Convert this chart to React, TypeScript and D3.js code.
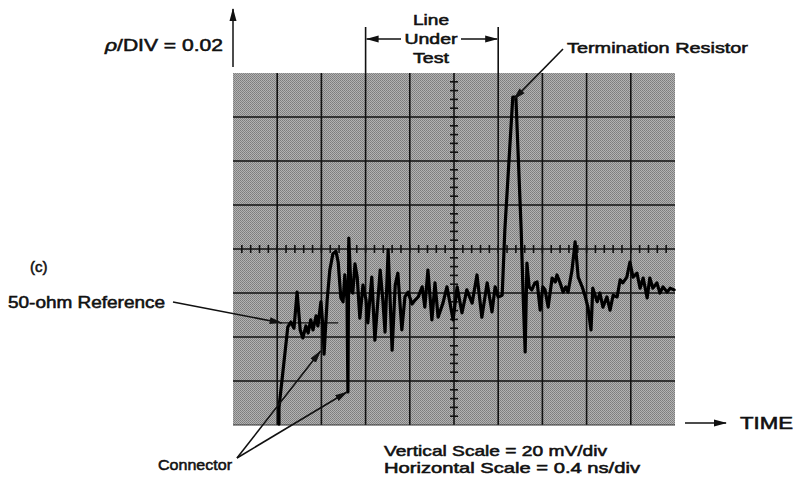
import React from "react";
import * as d3 from "d3";

// Trace: time in divisions (0..10), level in divisions (0..8, bottom = 0)
const traceTime = [
  1.04, 1.04, 1.24, 1.31, 1.38, 1.45, 1.52, 1.58, 1.65, 1.70, 1.76, 1.81, 1.88, 1.92, 1.99, 2.04, 2.06,
  2.13, 2.19, 2.26, 2.33, 2.38, 2.44, 2.49, 2.53, 2.58, 2.60, 2.62, 2.67, 2.71, 2.76, 2.81, 2.87, 2.94,
  3.01, 3.05, 3.14, 3.21, 3.33, 3.39, 3.44, 3.51, 3.60, 3.67, 3.73, 3.82, 3.89, 3.96, 4.05, 4.12, 4.19,
  4.28, 4.34, 4.41, 4.50, 4.57, 4.64, 4.75, 4.84, 4.91, 4.98, 5.07, 5.18, 5.29, 5.41, 5.52, 5.63, 5.75,
  5.86, 5.93, 6.00, 6.09, 6.15, 6.33, 6.40, 6.52, 6.56, 6.61, 6.65, 6.70, 6.76, 6.83, 6.88, 6.95, 7.01,
  7.06, 7.13, 7.22, 7.29, 7.33, 7.40, 7.47, 7.53, 7.58, 7.67, 7.74, 7.81, 7.90, 7.96, 8.03, 8.10, 8.14,
  8.24, 8.30, 8.37, 8.46, 8.53, 8.60, 8.69, 8.76, 8.82, 8.91, 8.98, 9.05, 9.14, 9.21, 9.28, 9.37, 9.43,
  9.50, 9.59, 9.66, 9.73, 9.82, 9.89, 9.98,
];
const traceLevel = [
  0.02, 0.39, 2.23, 2.34, 2.20, 3.02, 2.16, 1.98, 2.25, 2.09, 2.39, 2.16, 2.48, 2.25, 2.80, 2.16, 1.61,
  2.84, 3.52, 3.89, 3.95, 3.70, 2.89, 2.80, 3.41, 2.84, 0.75, 4.25, 3.07, 3.00, 3.66, 3.36, 2.43, 3.18,
  2.84, 2.32, 3.36, 1.93, 3.52, 2.84, 2.11, 3.98, 1.70, 3.18, 3.45, 2.16, 2.91, 3.02, 2.75, 2.84, 2.91,
  3.14, 2.68, 3.52, 2.39, 3.23, 2.45, 2.77, 3.14, 2.77, 2.39, 3.14, 2.55, 3.07, 2.77, 3.41, 2.45, 3.23,
  2.57, 3.14, 2.91, 2.95, 4.43, 7.45, 7.45, 4.43, 3.07, 1.66, 3.68, 3.14, 3.07, 3.23, 3.25, 2.61, 3.14,
  3.07, 2.68, 3.34, 3.25, 3.41, 3.23, 3.02, 3.14, 3.02, 3.52, 4.16, 3.36, 3.14, 2.95, 2.68, 2.16, 3.11,
  2.80, 3.00, 2.68, 2.91, 2.61, 2.95, 2.91, 3.30, 3.23, 3.36, 3.70, 3.36, 3.45, 3.11, 3.34, 2.89, 3.34,
  3.11, 3.23, 3.00, 3.14, 3.02, 3.11, 3.07,
];

const xDivisions = d3.range(0, 11);
const yDivisions = d3.range(0, 9);
const minorTicks = d3.range(0.2, 10, 0.2);
const minorTicksY = d3.range(0.2, 8, 0.2);
const referenceLevel = 2.32;

const labels = {
  line: ["Line", "Under", "Test"],
  term: "Termination Resistor",
  c: "(c)",
  ref: "50-ohm Reference",
  conn: "Connector",
  vscale: "Vertical Scale = 20 mV/div",
  hscale: "Horizontal Scale = 0.4 ns/div",
  time: "TIME",
};

export default function App() {
  const W = 799, H = 477;
  const x = d3.scaleLinear().domain([0, 10]).range([233, 675]);
  const y = d3.scaleLinear().domain([0, 8]).range([425, 73]);
  const pts = traceTime.map((t, i) => [t, traceLevel[i]] as [number, number]);
  const line = d3.line<[number, number]>().x((d) => x(d[0])).y((d) => y(d[1]));
  const font = "'Liberation Sans', Arial, Helvetica, sans-serif";
  const tStyle = { fontFamily: font, fontWeight: 400, fill: "#111", stroke: "#111", strokeWidth: 0.55 } as const;

  return (
    <svg width={W} height={H} style={{ position: "absolute", left: 0, top: 0, background: "#fff" }}>
      <defs>
        <pattern id="dither" width="2" height="2" patternUnits="userSpaceOnUse">
          <rect width="2" height="2" fill="#b2b2b2" />
          <rect width="1" height="1" fill="#7c7c7c" />
          <rect x="1" y="1" width="1" height="1" fill="#858585" />
        </pattern>
        <marker id="ah" markerUnits="userSpaceOnUse" markerWidth="13" markerHeight="8" refX="12" refY="4" orient="auto">
          <path d="M0,0.5 L13,4 L0,7.5 z" fill="#111" />
        </marker>
      </defs>

      {/* screen */}
      <rect x={x(0)} y={y(8)} width={x(10) - x(0)} height={y(0) - y(8)} fill="url(#dither)" />
      {xDivisions.slice(1, 10).map((d) => (
        <line key={"gx" + d} x1={x(d)} x2={x(d)} y1={y(8)} y2={y(0)} stroke="#111" strokeWidth={1.6} />
      ))}
      {yDivisions.slice(1, 8).map((d) => (
        <line key={"gy" + d} x1={x(0)} x2={x(10)} y1={y(d)} y2={y(d)} stroke="#111" strokeWidth={1.6} />
      ))}
      <line x1={x(0)} x2={x(10)} y1={y(0)} y2={y(0)} stroke="#333" strokeWidth={1.2} />
      {minorTicks.map((d, i) => (
        <line key={"mx" + i} x1={x(d)} x2={x(d)} y1={y(4) - 4} y2={y(4) + 4} stroke="#111" strokeWidth={1.6} />
      ))}
      {minorTicksY.map((d, i) => (
        <line key={"my" + i} x1={x(5) - 4} x2={x(5) + 4} y1={y(d)} y2={y(d)} stroke="#111" strokeWidth={1.6} />
      ))}

      {/* reference marker line */}
      <line x1={x(1.06)} x2={x(2.38)} y1={y(referenceLevel)} y2={y(referenceLevel)} stroke="#111" strokeWidth={1.2} />

      {/* trace */}
      <path d={line(pts) || ""} fill="none" stroke="#000" strokeWidth={3.2} strokeLinejoin="round" strokeLinecap="round" />

      {/* vertical axis arrow */}
      <line x1={x(0)} x2={x(0)} y1={67} y2={9} stroke="#111" strokeWidth={1.5} markerEnd="url(#ah)" />
      <text x={223} y={51} textAnchor="end" fontSize={17} textLength={118} lengthAdjust="spacingAndGlyphs" style={tStyle}>
        <tspan fontStyle="italic">ρ</tspan>/DIV = 0.02
      </text>

      {/* Line Under Test */}
      <line x1={x(3)} x2={x(3)} y1={27} y2={y(8)} stroke="#111" strokeWidth={1.6} />
      <line x1={x(6)} x2={x(6)} y1={27} y2={y(8)} stroke="#111" strokeWidth={1.6} />
      <line x1={401} x2={x(3) + 1} y1={39} y2={39} stroke="#111" strokeWidth={1.5} markerEnd="url(#ah)" />
      <line x1={461} x2={x(6) - 1} y1={39} y2={39} stroke="#111" strokeWidth={1.5} markerEnd="url(#ah)" />
      <text x={431} y={25} textAnchor="middle" fontSize={15} textLength={36} lengthAdjust="spacingAndGlyphs" style={tStyle}>{labels.line[0]}</text>
      <text x={431} y={44} textAnchor="middle" fontSize={15} textLength={53} lengthAdjust="spacingAndGlyphs" style={tStyle}>{labels.line[1]}</text>
      <text x={431} y={63} textAnchor="middle" fontSize={15} textLength={36} lengthAdjust="spacingAndGlyphs" style={tStyle}>{labels.line[2]}</text>

      {/* Termination resistor */}
      <text x={567} y={53} fontSize={15.5} textLength={181} lengthAdjust="spacingAndGlyphs" style={tStyle}>{labels.term}</text>
      <line x1={563} y1={49} x2={x(6.35)} y2={y(7.4)} stroke="#111" strokeWidth={1.6} markerEnd="url(#ah)" />

      {/* (c) */}
      <text x={30} y={272} fontSize={15} style={tStyle}>{labels.c}</text>

      {/* 50-ohm reference */}
      <text x={8} y={308} fontSize={16} textLength={157} lengthAdjust="spacingAndGlyphs" style={tStyle}>{labels.ref}</text>
      <line x1={173} y1={302} x2={x(1.1)} y2={y(referenceLevel)} stroke="#111" strokeWidth={1.6} markerEnd="url(#ah)" />

      {/* Connector */}
      <text x={232} y={470} textAnchor="end" fontSize={15.5} textLength={74} lengthAdjust="spacingAndGlyphs" style={tStyle}>{labels.conn}</text>
      <line x1={237} y1={458} x2={x(1.98)} y2={y(1.68)} stroke="#111" strokeWidth={1.6} markerEnd="url(#ah)" />
      <line x1={237} y1={458} x2={x(2.58)} y2={y(0.75)} stroke="#111" strokeWidth={1.6} markerEnd="url(#ah)" />

      {/* scales */}
      <text x={384} y={456} fontSize={15} textLength={223} lengthAdjust="spacingAndGlyphs" style={tStyle}>{labels.vscale}</text>
      <text x={384} y={473} fontSize={15} textLength={256} lengthAdjust="spacingAndGlyphs" style={tStyle}>{labels.hscale}</text>

      {/* TIME */}
      <line x1={685} x2={726} y1={423} y2={423} stroke="#111" strokeWidth={1.5} markerEnd="url(#ah)" />
      <text x={740} y={429} fontSize={16} textLength={53} lengthAdjust="spacingAndGlyphs" style={tStyle}>{labels.time}</text>
    </svg>
  );
}
